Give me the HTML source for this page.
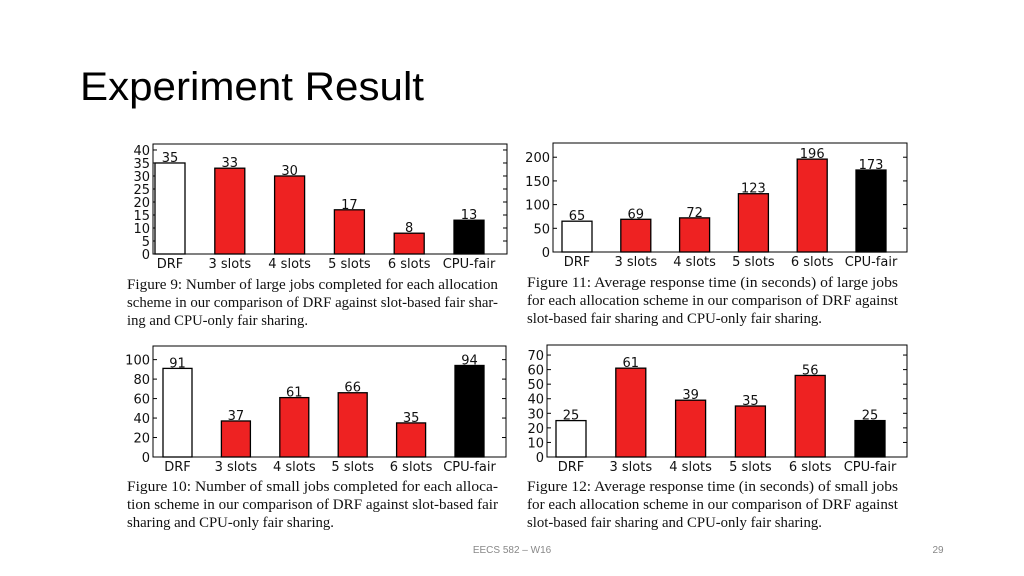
<!DOCTYPE html>
<html><head><meta charset="utf-8"><style>
html,body{margin:0;padding:0;background:#fff}
svg{display:block}
.tk{font-family:"DejaVu Sans","Liberation Sans",sans-serif;font-size:13px;fill:#111}
.cap{font-family:"Liberation Serif",serif;font-size:14.5px;fill:#111}
</style></head><body>
<svg id="s" width="1024" height="576" viewBox="0 0 1024 576">
<text x="80" y="100" font-family="Liberation Sans, sans-serif" font-size="40" textLength="344" lengthAdjust="spacingAndGlyphs">Experiment Result</text>
<text x="512" y="553" text-anchor="middle" font-family="Liberation Sans, sans-serif" font-size="10" fill="#888">EECS 582 – W16</text>
<text x="938" y="553" text-anchor="middle" font-family="Liberation Sans, sans-serif" font-size="10" fill="#888">29</text>
</svg>
<script>
const categories=["DRF","3 slots","4 slots","5 slots","6 slots","CPU-fair"];
const fig9Values=[35,33,30,17,8,13];
const fig11Values=[65,69,72,123,196,173];
const fig10Values=[91,37,61,66,35,94];
const fig12Values=[25,61,39,35,56,25];
const fig9Ticks=[0,5,10,15,20,25,30,35,40];
const fig11Ticks=[0,50,100,150,200];
const fig10Ticks=[0,20,40,60,80,100];
const fig12Ticks=[0,10,20,30,40,50,60,70];
const fig9Caption=["Figure 9:  Number of large jobs completed for each allocation","scheme in our comparison of DRF against slot-based fair shar-","ing and CPU-only fair sharing."];
const fig11Caption=["Figure 11:  Average response time (in seconds) of large jobs","for each allocation scheme in our comparison of DRF against","slot-based fair sharing and CPU-only fair sharing."];
const fig10Caption=["Figure 10:  Number of small jobs completed for each alloca-","tion scheme in our comparison of DRF against slot-based fair","sharing and CPU-only fair sharing."];
const fig12Caption=["Figure 12:  Average response time (in seconds) of small jobs","for each allocation scheme in our comparison of DRF against","slot-based fair sharing and CPU-only fair sharing."];

const NS="http://www.w3.org/2000/svg";
const svg=document.getElementById("s");
function mk(tag,attrs,parent){const e=document.createElementNS(NS,tag);for(const k in attrs)e.setAttribute(k,attrs[k]);(parent||svg).appendChild(e);return e;}

function chart(cfg){
  const g=mk("g",{});
  
  
  const y=v=>cfg.y0-(v/cfg.vmax)*(cfg.y0-cfg.top);
  const x=i=>cfg.bx0+i*cfg.step;
  // ticks
  cfg.ticks.forEach(t=>{
    const tl=mk("text",{x:cfg.left-3,y:y(t)+5,"text-anchor":"end",class:"tk"},g);
    tl.textContent=t;
    
    
    mk("line",{x1:cfg.left,x2:cfg.left+4,y1:y(t),y2:y(t),stroke:"#000","stroke-width":1},g);
    mk("line",{x1:cfg.right-4,x2:cfg.right,y1:y(t),y2:y(t),stroke:"#000","stroke-width":1},g);
  });
  cfg.values.forEach((v,i)=>{
    const fill=i===0?"#fff":(i===5?"#000":"#ee2222");
    const b=mk("rect",{x:x(i),y:y(v),width:cfg.bw,height:cfg.y0-y(v),fill:fill,stroke:"#000","stroke-width":1.3},g);
    
    
    const vl=mk("text",{x:x(i)+cfg.bw/2,y:y(v)-1,"text-anchor":"middle",class:"tk"},g);
    vl.textContent=v;
    
    
    const cl=mk("text",{x:x(i)+cfg.bw/2,y:cfg.y0+14,"text-anchor":"middle",class:"tk"},g);
    cl.textContent=categories[i];
    
    
  });
  const fr=mk("rect",{x:cfg.left,y:cfg.top,width:cfg.right-cfg.left,height:cfg.y0-cfg.top,fill:"none",stroke:"#000","stroke-width":1},g);
  
  
  cfg.caption.forEach((line,k)=>{
    const c=mk("text",{x:cfg.capx,y:cfg.capy+k*18,class:"cap",textLength:cfg.capw[k],lengthAdjust:"spacingAndGlyphs"},g);
    c.textContent=line;
    
    
  });
}
chart({name:"figure-9-chart",values:fig9Values,ticks:fig9Ticks,vmax:42.3,left:153,right:507,top:144,y0:254,bx0:155,step:59.8,bw:30,caption:fig9Caption,capx:127,capy:289,capw:[371,371,181]});
chart({name:"figure-11-chart",values:fig11Values,ticks:fig11Ticks,vmax:230,left:553,right:907,top:143,y0:252,bx0:562,step:58.8,bw:30,caption:fig11Caption,capx:527,capy:287,capw:[371,371,295]});
chart({name:"figure-10-chart",values:fig10Values,ticks:fig10Ticks,vmax:114,left:153,right:506,top:346,y0:457,bx0:163,step:58.4,bw:29,caption:fig10Caption,capx:127,capy:491,capw:[371,371,207]});
chart({name:"figure-12-chart",values:fig12Values,ticks:fig12Ticks,vmax:76.9,left:547,right:907,top:345,y0:457,bx0:556,step:59.8,bw:30,caption:fig12Caption,capx:527,capy:491,capw:[371,371,295]});
</script>
</body></html>
